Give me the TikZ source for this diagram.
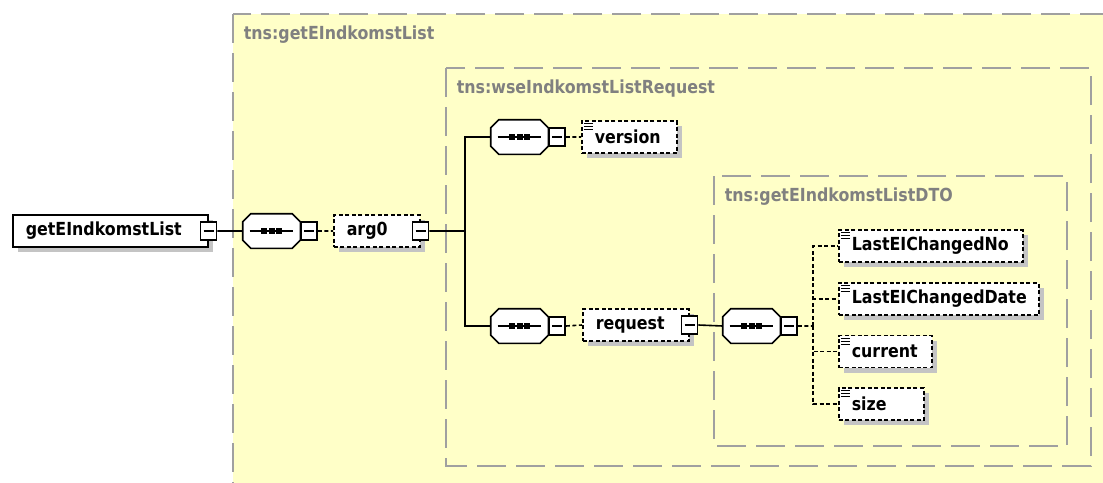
\documentclass[tikz,border=0pt]{standalone}
\usepackage{fontspec}
\newfontfamily\xsdfont[FakeStretch=0.88]{DejaVu Sans}
\usetikzlibrary{shadows}
\definecolor{xsdyellow}{RGB}{255,255,200}
\definecolor{xsdframe}{RGB}{160,160,160}
\definecolor{xsdlabel}{RGB}{128,128,128}
\definecolor{xsdshadow}{RGB}{196,196,196}

\begin{document}
\begin{tikzpicture}[x=1pt,y=-1pt,line width=1.6pt,
    frame/.style={draw=xsdframe,fill=xsdyellow,line width=1.8pt,dash pattern=on 29pt off 10pt},
    framelabel/.style={anchor=base west,text=xsdlabel,inner sep=0pt,font=\xsdfont\bfseries\fontsize{18}{21}\selectfont},
    shade/.style={drop shadow={shadow xshift=5pt,shadow yshift=-5pt,fill=xsdshadow,opacity=1}},
    elem/.style={draw,fill=white,shade,anchor=west,align=left,inner xsep=13pt,inner ysep=0pt,minimum height=32pt,font=\xsdfont\bfseries\fontsize{18}{21}\selectfont},
    optional/.style={dash pattern=on 4pt off 2.5pt},
    simple/.style={path picture={\foreach \k in {2.5,5.5,8.5} \draw[solid,line width=1pt] ([xshift=2pt,yshift=-\k pt]path picture bounding box.north west) -- ++(9pt,0);}},
    seq/.style={rectangle,minimum width=56pt,minimum height=33pt,inner sep=0pt},
    minus/.style={draw,solid,fill=white,minimum width=16pt,minimum height=18pt,inner sep=0pt,
        path picture={\draw ([xshift=3pt]path picture bounding box.west) -- ([xshift=-3pt]path picture bounding box.east);}},
    link/.style={draw,line width=1.6pt}]
    \useasboundingbox (0,0) rectangle (1103,482);
    \clip (0,0) rectangle (1103,482);
    % nested type frames
    \draw[frame] (233,14) rectangle (1140,520);
    \draw (243,39) node[framelabel] (outerlabel) {tns:getEIndkomstList};
    \draw[frame] (446,68) rectangle (1091,466);
    \draw (456,93) node[framelabel] (midlabel) {tns:wseIndkomstListRequest};
    \draw[frame] (714,176) rectangle (1067,446);
    \draw (724,201) node[framelabel] (innerlabel) {tns:getEIndkomstListDTO};
    % sequence compositors
    \draw (271.5,231) node[seq] (seqA) {};
    \draw (519.5,137) node[seq] (seqB) {};
    \draw (519.5,326) node[seq] (seqC) {};
    \draw (751.5,326) node[seq] (seqD) {};
    \foreach \s in {seqA,seqB,seqC,seqD} {
        \fill[xsdshadow,shift={(5pt,-5pt)}] ([xshift=8pt]\s.north west) -- ([xshift=-8pt]\s.north east) -- ([yshift=-8pt]\s.north east) -- ([yshift=8pt]\s.south east)
            -- ([xshift=-8pt]\s.south east) -- ([xshift=8pt]\s.south west) -- ([yshift=8pt]\s.south west) -- ([yshift=-8pt]\s.north west) -- cycle;
        \draw[fill=white] ([xshift=8pt]\s.north west) -- ([xshift=-8pt]\s.north east) -- ([yshift=-8pt]\s.north east) -- ([yshift=8pt]\s.south east)
            -- ([xshift=-8pt]\s.south east) -- ([xshift=8pt]\s.south west) -- ([yshift=8pt]\s.south west) -- ([yshift=-8pt]\s.north west) -- cycle;
        \draw ([xshift=7pt]\s.west) -- ([xshift=-7pt]\s.east);
        \foreach \d in {-7.5,0,7.5} \fill ([xshift=\d pt]\s.center) +(-3pt,-3pt) rectangle +(3pt,3pt);
    }
    \draw (seqA.east) node[minus,anchor=west] (seqAminus) {};
    \draw (seqB.east) node[minus,anchor=west] (seqBminus) {};
    \draw (seqC.east) node[minus,anchor=west] (seqCminus) {};
    \draw (seqD.east) node[minus,anchor=west] (seqDminus) {};
    % elements
    \draw (12,231)    node[elem,text width=169pt] (root) {getEIndkomstList};
    \draw (root.east) node[minus] (rootminus) {};
    \draw (333,231)   node[elem,optional,text width=60pt] (arg0) {arg0};
    \draw (arg0.east) node[minus] (arg0minus) {};
    \coordinate (fork) at (465,231);
    \draw (581,137)   node[elem,optional,simple,text width=69pt] (version) {version};
    \draw (582,325)   node[elem,optional,text width=80pt] (request) {request};
    \draw (request.east) node[minus] (requestminus) {};
    \coordinate (fork2) at (813,326);
    \draw (838,246)   node[elem,optional,simple,text width=158pt] (changedno) {LastEIChangedNo};
    \draw (838,299)   node[elem,optional,simple,text width=174pt] (changeddate) {LastEIChangedDate};
    \draw (838,351.5) node[elem,optional,simple,text width=67pt] (current) {current};
    \draw (838,404)   node[elem,optional,simple,text width=59pt] (size) {size};
    % connectors
    \draw[link] (rootminus.east) -- (seqA.west)
                (arg0minus.east) -- (fork)
                (seqB.west) -| (fork) |- (seqC.west)
                (requestminus.east) -- (seqD.west);
    \draw[link,optional] (seqAminus.east) -- (arg0.west)
                (seqBminus.east) -- (version.west)
                (seqCminus.east) -- (request.west)
                (seqDminus.east) -- (fork2);
    \foreach \leaf in {changedno,changeddate,current,size}
        \draw[link,optional] (fork2) |- (\leaf.west);
\end{tikzpicture}
\end{document}
